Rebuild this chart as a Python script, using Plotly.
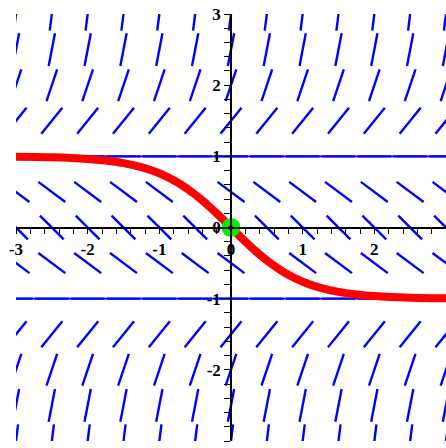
import numpy as np
import plotly.graph_objects as go

x_cols = [-3, -2.5, -2, -1.5, -1, -0.5, 0, 0.5, 1, 1.5, 2, 2.5, 3]
y_rows = [3, 2.5, 2, 1.5, 1, 0.5, 0, -0.5, -1, -1.5, -2, -2.5, -3]
row_slopes = [8, 5.25, 3, 1.25, 0, -0.75, -1, -0.75, 0, 1.25, 3, 5.25, 8]

# Equilibrium solutions
equilibria = [1, -1]

# Particular solution through the origin
curve_x = [-3, -2.5, -2, -1.75, -1.5, -1.25, -1, -0.75, -0.5, -0.25, 0,
           0.25, 0.5, 0.75, 1, 1.25, 1.5, 1.75, 2, 2.5, 3]
curve_y = [0.995, 0.987, 0.964, 0.941, 0.905, 0.848, 0.762, 0.635, 0.462, 0.245, 0,
           -0.245, -0.462, -0.635, -0.762, -0.848, -0.905, -0.941, -0.964, -0.987, -0.995]
initial_point = ([0], [0])

tick_labels = ["-3", "-2", "-1", "0", "1", "2", "3"]
tick_major = [-3, -2, -1, 0, 1, 2, 3]

SEG_LEN = 0.47

sx, sy = [], []
for yv, m in zip(y_rows, row_slopes):
    for xv in x_cols:
        dx = SEG_LEN / 2 / np.sqrt(1 + m * m)
        dy = m * dx
        sx += [xv - dx, xv + dx, None]
        sy += [yv - dy, yv + dy, None]

fig = go.Figure()
fig.add_trace(go.Scatter(x=sx, y=sy, mode="lines",
                         line=dict(color="#0000ff", width=2.4), hoverinfo="skip"))
for e in equilibria:
    fig.add_trace(go.Scatter(x=[x_cols[0], x_cols[-1]], y=[e, e], mode="lines",
                             line=dict(color="#0000ff", width=1.6), hoverinfo="skip"))
fig.add_trace(go.Scatter(x=curve_x, y=curve_y, mode="lines",
                         line=dict(color="#ff0000", width=8, shape="spline"),
                         hoverinfo="skip"))
fig.add_trace(go.Scatter(x=initial_point[0], y=initial_point[1], mode="markers",
                         marker=dict(color="#00ee00", size=19), hoverinfo="skip"))
fig.add_trace(go.Scatter(x=initial_point[0], y=initial_point[1], mode="markers",
                         marker=dict(color="#ff0000", size=5), hoverinfo="skip"))

minor_vals = [round(v, 1) for v in np.arange(-3, 3.01, 0.2)]
minor_text = [tick_labels[tick_major.index(int(round(v)))] if abs(v - round(v)) < 1e-6 else ""
              for v in minor_vals]

axis_common = dict(
    range=[-3, 3], showgrid=False, zeroline=False, showline=True,
    linecolor="black", linewidth=1.5, ticks="outside", ticklen=6,
    tickcolor="black", tickwidth=1.2, tickmode="array",
    tickvals=minor_vals, ticktext=minor_text,
    tickfont=dict(family="Liberation Serif", size=17, color="black", weight="bold"),
    anchor="free", position=0.5, automargin=False, fixedrange=True,
)

fig.update_layout(
    width=446, height=448,
    margin=dict(l=16, r=0, t=14, b=7),
    paper_bgcolor="white", plot_bgcolor="white",
    showlegend=False,
    xaxis=axis_common,
    yaxis=axis_common,
)
fig.write_html("out.html")
